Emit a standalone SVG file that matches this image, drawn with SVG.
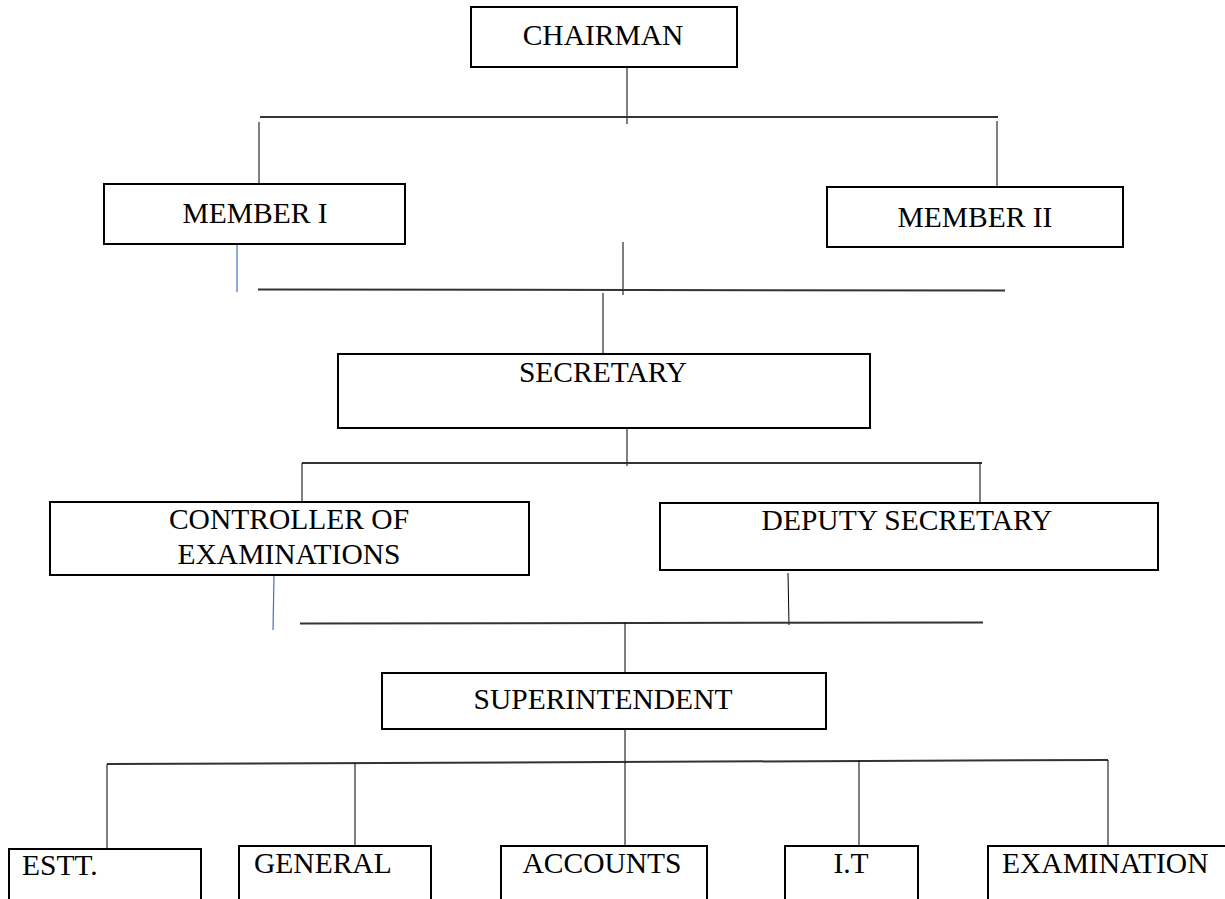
<svg xmlns="http://www.w3.org/2000/svg" width="1225" height="899" viewBox="0 0 1225 899">
<style>
.box{fill:#fff;stroke:#000;stroke-width:2}
.t{font-family:"Liberation Serif","Times New Roman",serif;font-size:29.5px;fill:#000}
.c{text-anchor:middle}
.ln{stroke:#000;stroke-width:1;fill:none}
.hl{stroke:#333;stroke-width:2;fill:none}
.bl{stroke:#4472C4;stroke-width:1.2;fill:none}
</style>
<rect width="1225" height="899" fill="#fff"/>
<g id="connectors">
<line class="ln" x1="627" y1="67" x2="627" y2="124"/>
<line class="hl" x1="260" y1="117" x2="998" y2="117"/>
<line class="ln" x1="259" y1="122" x2="259" y2="188"/>
<line class="ln" x1="997" y1="121" x2="997" y2="191"/>
<line class="bl" x1="237" y1="240" x2="237" y2="292"/>
<line class="ln" x1="623" y1="242" x2="623" y2="295"/>
<line class="hl" x1="258" y1="289.5" x2="1005" y2="290.5"/>
<line class="ln" x1="603" y1="293" x2="603" y2="357"/>
<line class="ln" x1="627" y1="425" x2="627" y2="466"/>
<line class="hl" x1="302" y1="463" x2="982" y2="463"/>
<line class="ln" x1="302" y1="463" x2="302" y2="503"/>
<line class="ln" x1="980" y1="463" x2="980" y2="506"/>
<line class="bl" x1="274" y1="575" x2="273" y2="630"/>
<line class="ln" x1="788" y1="573" x2="789" y2="625"/>
<line class="hl" x1="300" y1="623.5" x2="983" y2="622.5"/>
<line class="ln" x1="625" y1="623" x2="625" y2="677"/>
<line class="ln" x1="625" y1="727" x2="625" y2="763"/>
<line class="hl" x1="107" y1="764" x2="1108" y2="760"/>
<line class="ln" x1="107" y1="764" x2="107" y2="848"/>
<line class="ln" x1="355" y1="763" x2="355" y2="847"/>
<line class="ln" x1="625" y1="762" x2="625" y2="845"/>
<line class="ln" x1="859" y1="761" x2="859" y2="846"/>
<line class="ln" x1="1108" y1="760" x2="1108" y2="845"/>
</g>
<g id="chairman"><rect class="box" x="471" y="7" width="266" height="60"/><text class="t c" x="603" y="45">CHAIRMAN</text></g>
<g id="member1"><rect class="box" x="104" y="184" width="301" height="60"/><text class="t c" x="255" y="223">MEMBER I</text></g>
<g id="member2"><rect class="box" x="827" y="187" width="296" height="60"/><text class="t c" x="975" y="227">MEMBER II</text></g>
<g id="secretary"><rect class="box" x="338" y="354" width="532" height="74"/><text class="t c" x="603" y="382">SECRETARY</text></g>
<g id="controller"><rect class="box" x="50" y="502" width="479" height="73"/><text class="t c" x="289" y="529">CONTROLLER OF</text><text class="t c" x="289" y="564">EXAMINATIONS</text></g>
<g id="deputy"><rect class="box" x="660" y="503" width="498" height="67"/><text class="t c" x="907" y="530">DEPUTY SECRETARY</text></g>
<g id="superintendent"><rect class="box" x="382" y="673" width="444" height="56"/><text class="t c" x="603" y="709">SUPERINTENDENT</text></g>
<g id="estt"><rect class="box" x="9" y="849" width="192" height="70"/><text class="t" x="22" y="875">ESTT.</text></g>
<g id="general"><rect class="box" x="239" y="846" width="192" height="73"/><text class="t" x="254" y="873">GENERAL</text></g>
<g id="accounts"><rect class="box" x="501" y="846" width="206" height="73"/><text class="t c" x="602" y="873">ACCOUNTS</text></g>
<g id="it"><rect class="box" x="785" y="846" width="133" height="73"/><text class="t c" x="851" y="873">I.T</text></g>
<g id="examination"><rect class="box" x="988" y="846" width="250" height="73"/><text class="t" x="1002" y="873">EXAMINATION</text></g>
</svg>
